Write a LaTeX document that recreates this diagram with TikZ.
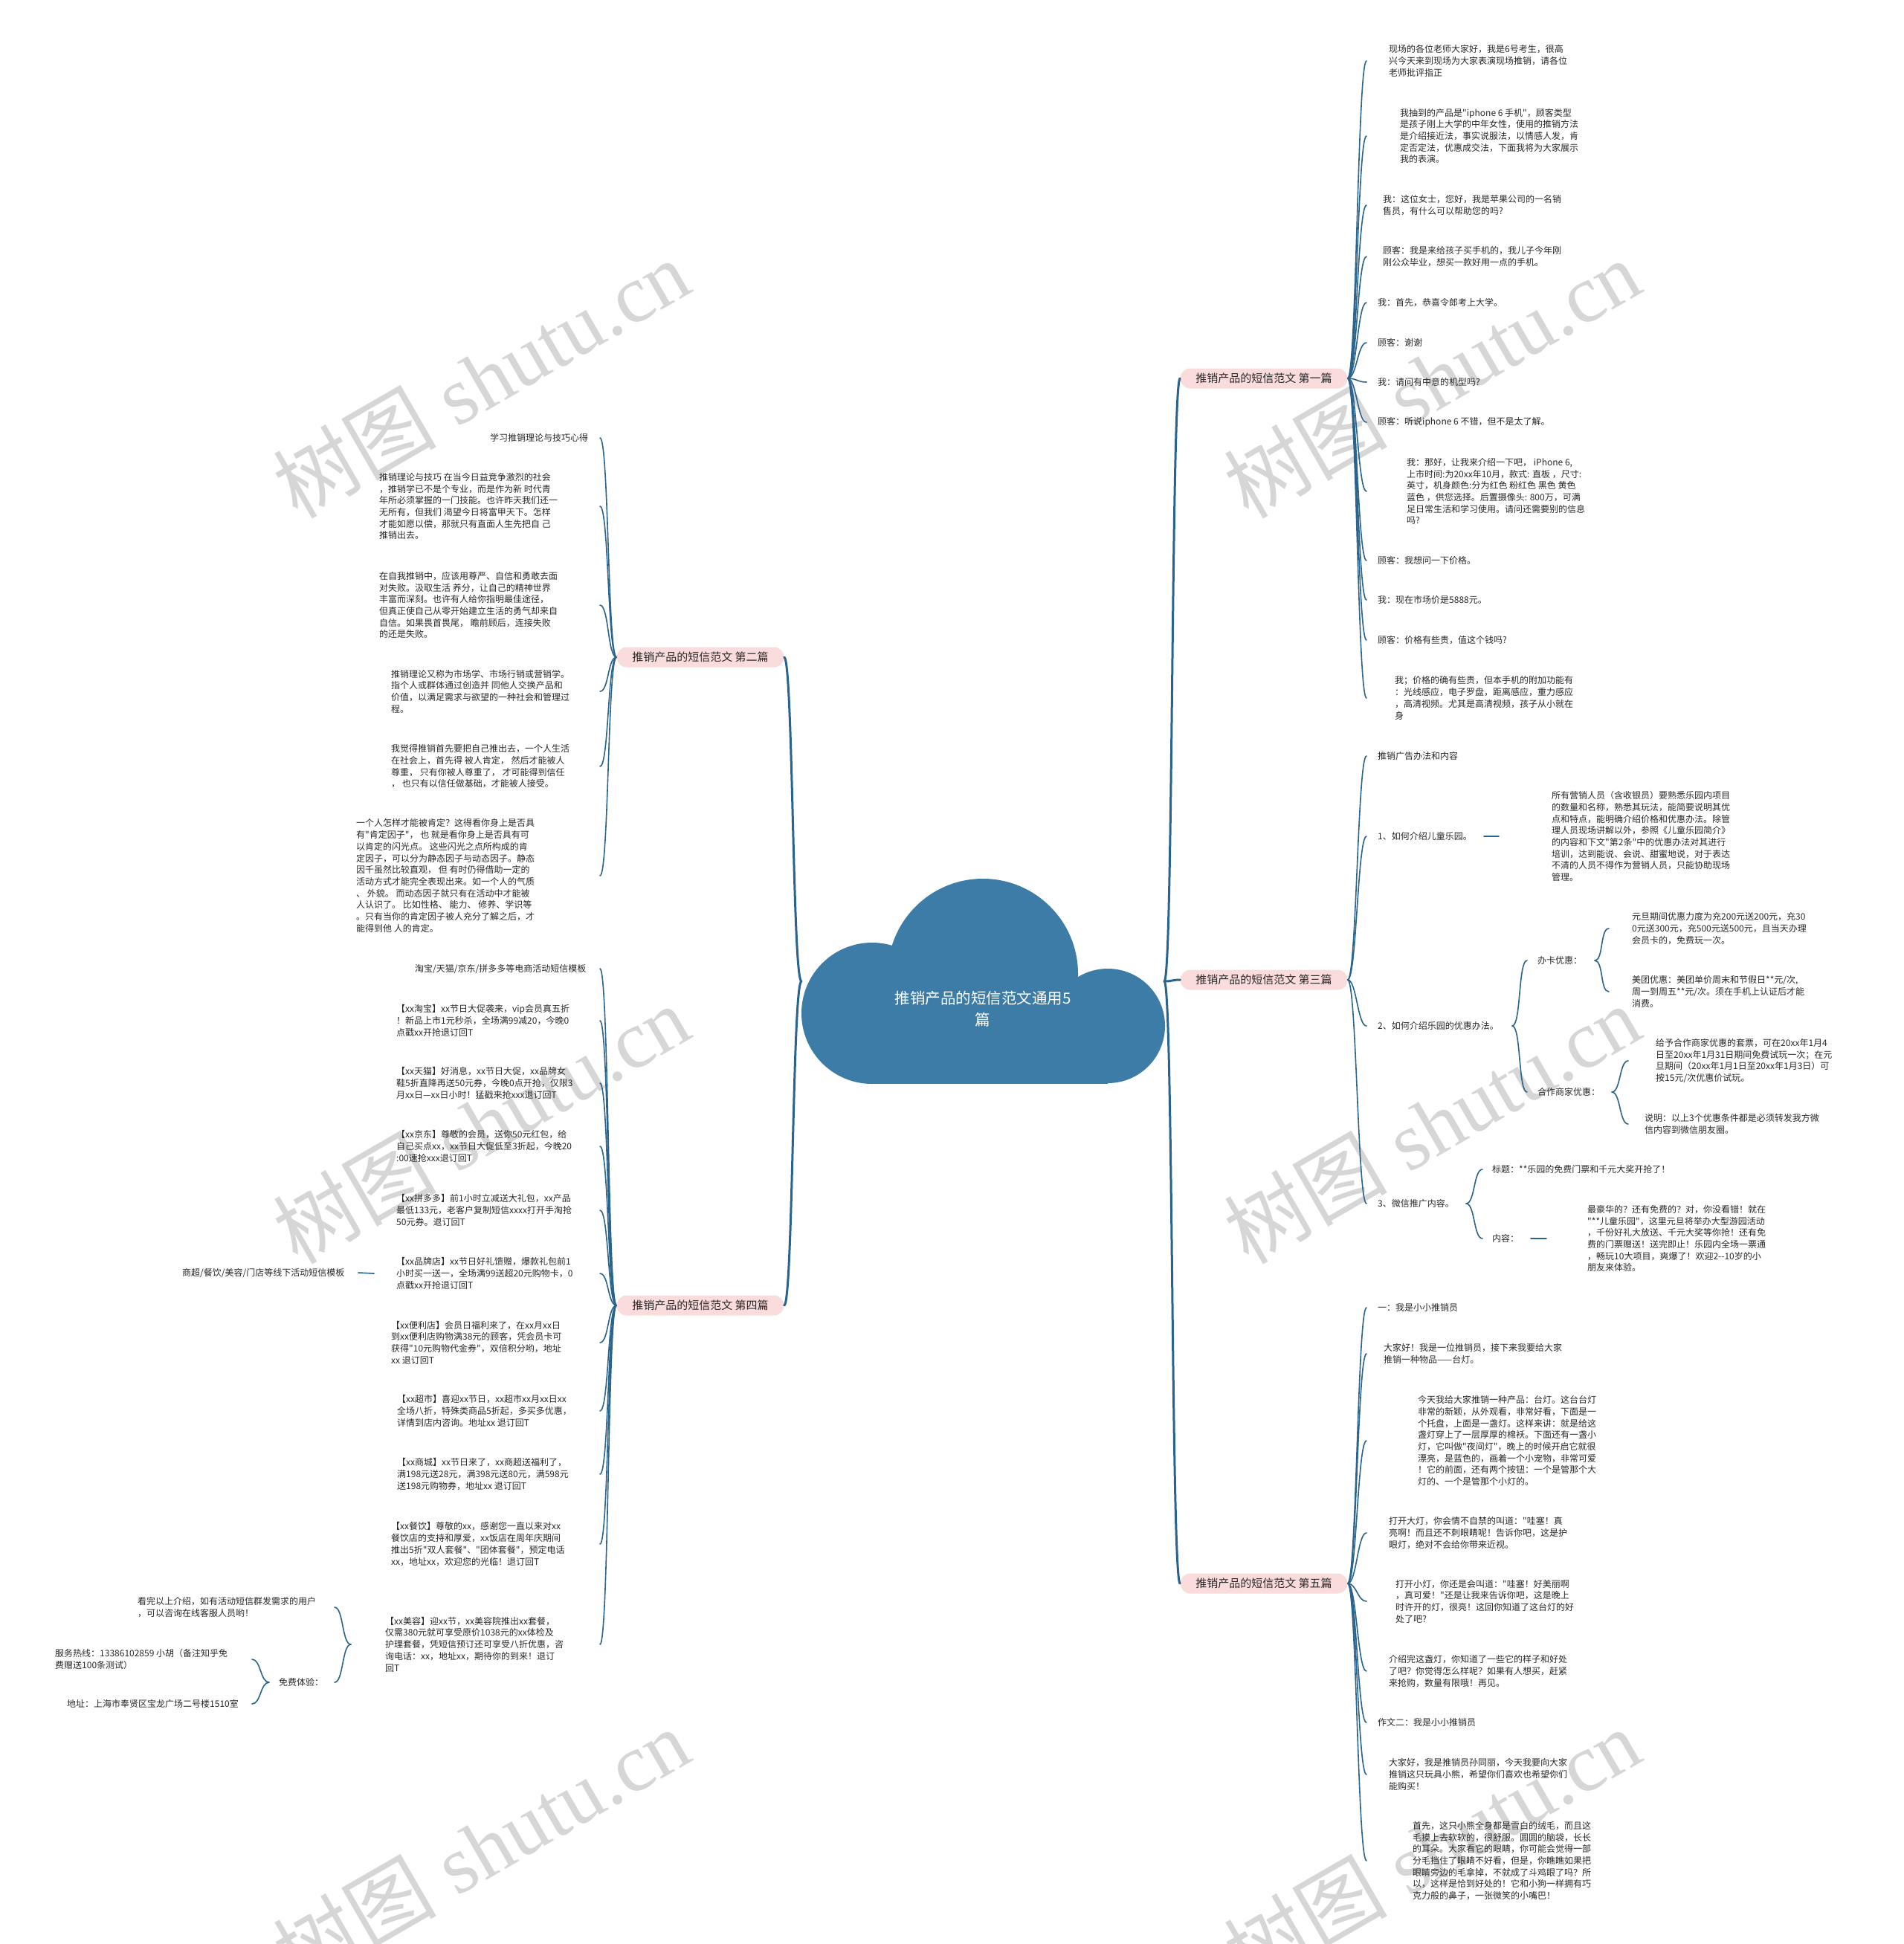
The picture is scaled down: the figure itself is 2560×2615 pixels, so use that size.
\documentclass[tikz,border=0pt]{standalone}
\usepackage{fontspec}
\setmainfont{Liberation Serif}
\newfontfamily\cjk{Noto Sans CJK SC}
\definecolor{lnc}{RGB}{42,100,140}
\definecolor{cloudc}{RGB}{61,124,167}
\definecolor{pillc}{RGB}{250,220,220}
\definecolor{txtc}{RGB}{40,40,40}
\definecolor{wmc}{RGB}{214,214,214}
\begin{document}
\begin{tikzpicture}[x=1pt,y=-1pt,
 leaf/.style={font=\cjk\fontsize{12}{15.7}\selectfont, align=left, inner sep=0pt, anchor=west, text=txtc},
 pill/.style={font=\cjk\fontsize{15}{18}\selectfont, text=txtc, fill=pillc, rounded corners=13.5pt, minimum width=225pt, minimum height=27pt, inner sep=0pt},
 trunk/.style={draw=lnc, line width=3pt, line cap=round},
 twig/.style={draw=lnc, line width=1.6pt, line cap=round},
 wm/.style={text=wmc, rotate=30, font=\fontsize{110}{110}\selectfont, inner sep=0pt}]
\useasboundingbox (0,0) rectangle (2560,2615);
\fill[white] (0,0) rectangle (2560,2615);
% watermarks
\node[wm] (w1) at (647,509) {{\cjk 树图} shutu.cn};
\node[wm] (w2) at (647,1512) {{\cjk 树图} shutu.cn};
\node[wm] (w3) at (647,2485) {{\cjk 树图} shutu.cn};
\node[wm] (w4) at (1926,509) {{\cjk 树图} shutu.cn};
\node[wm] (w5) at (1926,1512) {{\cjk 树图} shutu.cn};
\node[wm] (w6) at (1926,2485) {{\cjk 树图} shutu.cn};
% cloud
\fill[cloudc] (1173,1363) circle[radius=95];
\fill[cloudc] (1322,1310) circle[radius=128];
\fill[cloudc] (1490,1380) circle[radius=77];
\fill[cloudc] (1173,1363) rectangle (1490,1458);
\node[font=\cjk\fontsize{20.5}{29}\selectfont, text=white, align=center] (root) at (1322,1357) {推销产品的短信范文通用5\\篇};
\coordinate (rootL) at (1078,1320);
\coordinate (rootR) at (1566,1320);
% columns
\coordinate (tipR) at (1838,0);
\coordinate (tipL) at (807,0);
\coordinate (s3c) at (2034,0);
\coordinate (t3c) at (2054,0);
\coordinate (s3c1) at (2145,0);
\coordinate (t3c1) at (2164,0);
\coordinate (s3c2) at (2168,0);
\coordinate (t3c2) at (2190,0);
\coordinate (s3d) at (1972,0);
\coordinate (t3d) at (1994,0);
\coordinate (d3b) at (1996,0);
\coordinate (e3b) at (2016,0);
\coordinate (d3d) at (2059,0);
\coordinate (e3d) at (2080,0);
\coordinate (d4f) at (503,0);
\coordinate (e4f) at (482,0);
\coordinate (sK) at (472,0);
\coordinate (tK) at (450,0);
\coordinate (sF) at (362,0);
\coordinate (tF) at (339,0);
% pills
\node[pill] (p1) at (1700,509) {推销产品的短信范文 第一篇};
\node[pill] (p3) at (1700,1318) {推销产品的短信范文 第三篇};
\node[pill] (p5) at (1700,2130) {推销产品的短信范文 第五篇};
\node[pill] (p2) at (942,884) {推销产品的短信范文 第二篇};
\node[pill] (p4) at (942,1756) {推销产品的短信范文 第四篇};
% trunks
\foreach \p in {p1,p3,p5} \draw[trunk] (rootR) .. controls +(12,0) and +(-12,0) .. (\p.west);
\foreach \p in {p2,p4} \draw[trunk] (rootL) .. controls +(-12,0) and +(12,0) .. (\p.east);
% first
\node[leaf] (r1a) at (1868,82) {现场的各位老师大家好，我是6号考生，很高\\兴今天来到现场为大家表演现场推销，请各位\\老师批评指正};
\node[leaf] (r1b) at (1883,183) {我抽到的产品是"iphone 6 手机"，顾客类型\\是孩子刚上大学的中年女性，使用的推销方法\\是介绍接近法，事实说服法，以情感人发，肯\\定否定法，优惠成交法，下面我将为大家展示\\我的表演。};
\node[leaf] (r1c) at (1860,276) {我：这位女士，您好，我是苹果公司的一名销\\售员，有什么可以帮助您的吗?};
\node[leaf] (r1d) at (1860,345) {顾客：我是来给孩子买手机的，我儿子今年刚\\刚公众毕业，想买一款好用一点的手机。};
\node[leaf] (r1e) at (1853,407) {我：首先，恭喜令郎考上大学。};
\node[leaf] (r1f) at (1853,461) {顾客：谢谢};
\node[leaf] (r1g) at (1853,514) {我：请问有中意的机型吗?};
\node[leaf] (r1h) at (1853,568) {顾客：听说iphone 6 不错，但不是太了解。};
\node[leaf] (r1i) at (1892,661) {我：那好，让我来介绍一下吧， iPhone 6,\\上市时间:为20xx年10月，款式: 直板 ，尺寸:\\英寸，机身颜色:分为红色 粉红色 黑色 黄色\\蓝色 ，供您选择。后置摄像头: 800万，可满\\足日常生活和学习使用。请问还需要别的信息\\吗?};
\node[leaf] (r1j) at (1853,754) {顾客：我想问一下价格。};
\node[leaf] (r1k) at (1853,807) {我：现在市场价是5888元。};
\node[leaf] (r1l) at (1853,861) {顾客：价格有些贵，值这个钱吗?};
\node[leaf] (r1m) at (1876,939) {我；价格的确有些贵，但本手机的附加功能有\\：光线感应，电子罗盘，距离感应，重力感应\\，高清视频。尤其是高清视频，孩子从小就在\\身};
\foreach \n in {r1a,r1b,r1c,r1d,r1e,r1f,r1g,r1h,r1i,r1j,r1k,r1l,r1m}
  \draw[twig] (p1.east) .. controls +(12,0) and +(-12,0) .. (\n.west -| tipR);
% third
\node[leaf] (r3a) at (1853,1017) {推销广告办法和内容};
\node[leaf] (r3b) at (1853,1125) {1、如何介绍儿童乐园。};
\node[leaf] (r3b1) at (2087,1125) {所有营销人员（含收银员）要熟悉乐园内项目\\的数量和名称，熟悉其玩法，能简要说明其优\\点和特点，能明确介绍价格和优惠办法。除管\\理人员现场讲解以外，参照《儿童乐园简介》\\的内容和下文"第2条"中的优惠办法对其进行\\培训，达到能说、会说、甜蜜地说，对于表达\\不清的人员不得作为营销人员，只能协助现场\\管理。};
\node[leaf] (r3c) at (1853,1380) {2、如何介绍乐园的优惠办法。};
\node[leaf] (r3c1) at (2068,1292) {办卡优惠：};
\node[leaf] (r3c1a) at (2195,1249) {元旦期间优惠力度为充200元送200元，充30\\0元送300元，充500元送500元，且当天办理\\会员卡的，免费玩一次。};
\node[leaf] (r3c1b) at (2195,1334) {美团优惠：美团单价周末和节假日**元/次,\\周一到周五**元/次。须在手机上认证后才能\\消费。};
\node[leaf] (r3c2) at (2068,1469) {合作商家优惠：};
\node[leaf] (r3c2a) at (2227,1427) {给予合作商家优惠的套票，可在20xx年1月4\\日至20xx年1月31日期间免费试玩一次；在元\\旦期间（20xx年1月1日至20xx年1月3日）可\\按15元/次优惠价试玩。};
\node[leaf] (r3c2b) at (2212,1512) {说明：以上3个优惠条件都是必须转发我方微\\信内容到微信朋友圈。};
\node[leaf] (r3d) at (1853,1619) {3、微信推广内容。};
\node[leaf] (r3d1) at (2007,1573) {标题：**乐园的免费门票和千元大奖开抢了！};
\node[leaf] (r3d2) at (2007,1666) {内容：};
\node[leaf] (r3d2a) at (2135,1666) {最豪华的？还有免费的？对，你没看错！就在\\"**儿童乐园"，这里元旦将举办大型游园活动\\，千份好礼大放送、千元大奖等你抢！还有免\\费的门票赠送！送完即止！乐园内全场一票通\\，畅玩10大项目，爽爆了！欢迎2-{}-10岁的小\\朋友来体验。};
\foreach \n in {r3a,r3b,r3c,r3d}
  \draw[twig] (p3.east) .. controls +(12,0) and +(-12,0) .. (\n.west -| tipR);
\draw[twig] (r3b.east -| d3b) -- (r3b1.west -| e3b);
\foreach \n in {r3c1,r3c2}
  \draw[twig] (r3c.east -| s3c) .. controls +(12,0) and +(-12,0) .. (\n.west -| t3c);
\foreach \n in {r3c1a,r3c1b}
  \draw[twig] (r3c1.east -| s3c1) .. controls +(12,0) and +(-12,0) .. (\n.west -| t3c1);
\foreach \n in {r3c2a,r3c2b}
  \draw[twig] (r3c2.east -| s3c2) .. controls +(12,0) and +(-12,0) .. (\n.west -| t3c2);
\foreach \n in {r3d1,r3d2}
  \draw[twig] (r3d.east -| s3d) .. controls +(12,0) and +(-12,0) .. (\n.west -| t3d);
\draw[twig] (r3d2.east -| d3d) -- (r3d2a.west -| e3d);
% fifth
\node[leaf] (r5a) at (1853,1759) {一：我是小小推销员};
\node[leaf] (r5b) at (1861,1821) {大家好！我是一位推销员，接下来我要给大家\\推销一种物品——台灯。};
\node[leaf] (r5c) at (1907,1938) {今天我给大家推销一种产品：台灯。这台台灯\\非常的新颖，从外观看，非常好看，下面是一\\个托盘，上面是一盏灯。这样来讲：就是给这\\盏灯穿上了一层厚厚的棉袄。下面还有一盏小\\灯，它叫做"夜间灯"，晚上的时候开启它就很\\漂亮，是蓝色的，画着一个小宠物，非常可爱\\！它的前面，还有两个按钮：一个是管那个大\\灯的、一个是管那个小灯的。};
\node[leaf] (r5d) at (1868,2062) {打开大灯，你会情不自禁的叫道："哇塞！真\\亮啊！而且还不刺眼睛呢！告诉你吧，这是护\\眼灯，绝对不会给你带来近视。};
\node[leaf] (r5e) at (1877,2154) {打开小灯，你还是会叫道："哇塞！好美丽啊\\，真可爱！"还是让我来告诉你吧，这是晚上\\时许开的灯，很亮！这回你知道了这台灯的好\\处了吧?};
\node[leaf] (r5f) at (1868,2248) {介绍完这盏灯，你知道了一些它的样子和好处\\了吧？你觉得怎么样呢？如果有人想买，赶紧\\来抢购，数量有限哦！再见。};
\node[leaf] (r5g) at (1853,2317) {作文二：我是小小推销员};
\node[leaf] (r5h) at (1868,2387) {大家好，我是推销员孙同丽，今天我要向大家\\推销这只玩具小熊，希望你们喜欢也希望你们\\能购买！};
\node[leaf] (r5i) at (1900,2503) {首先，这只小熊全身都是雪白的绒毛，而且这\\毛摸上去软软的，很舒服。圆圆的脑袋，长长\\的耳朵。大家看它的眼睛，你可能会觉得一部\\分毛挡住了眼睛不好看，但是，你瞧瞧如果把\\眼睛旁边的毛拿掉，不就成了斗鸡眼了吗？所\\以，这样是恰到好处的！它和小狗一样拥有巧\\克力般的鼻子，一张微笑的小嘴巴！};
\foreach \n in {r5a,r5b,r5c,r5d,r5e,r5f,r5g,r5h,r5i}
  \draw[twig] (p5.east) .. controls +(12,0) and +(-12,0) .. (\n.west -| tipR);
% second
\node[leaf] (l2a) at (659,589) {学习推销理论与技巧心得};
\node[leaf] (l2b) at (510,681) {推销理论与技巧 在当今日益竞争激烈的社会\\，推销学已不是个专业，而是作为新 时代青\\年所必须掌握的一门技能。也许昨天我们还一\\无所有，但我们 渴望今日将富甲天下。怎样\\才能如愿以偿，那就只有直面人生先把自 己\\推销出去。};
\node[leaf] (l2c) at (510,814) {在自我推销中，应该用尊严、自信和勇敢去面\\对失败。汲取生活 养分，让自己的精神世界\\丰富而深刻。也许有人给你指明最佳途径，\\但真正使自己从零开始建立生活的勇气却来自\\自信。如果畏首畏尾， 瞻前顾后，连接失败\\的还是失败。};
\node[leaf] (l2d) at (526,930) {推销理论又称为市场学、市场行销或营销学。\\指个人或群体通过创造并 同他人交换产品和\\价值，以满足需求与欲望的一种社会和管理过\\程。};
\node[leaf] (l2e) at (526,1031) {我觉得推销首先要把自己推出去，一个人生活\\在社会上，首先得 被人肯定， 然后才能被人\\尊重， 只有你被人尊重了， 才可能得到信任\\， 也只有以信任做基础，才能被人接受。};
\node[leaf] (l2f) at (479,1178) {一个人怎样才能被肯定？这得看你身上是否具\\有"肯定因子"， 也 就是看你身上是否具有可\\以肯定的闪光点。 这些闪光之点所构成的肯\\定因子，可以分为静态因子与动态因子。静态\\因千虽然比较直观， 但 有时仍得借助一定的\\活动方式才能完全表现出来。如一个人的气质\\、 外貌。 而动态因子就只有在活动中才能被\\人认识了。 比如性格、 能力、 修养、学识等\\。只有当你的肯定因子被人充分了解之后，才\\能得到他 人的肯定。};
\foreach \n in {l2a,l2b,l2c,l2d,l2e,l2f}
  \draw[twig] (p2.west) .. controls +(-12,0) and +(12,0) .. (\n.east -| tipL);
% fourth
\node[leaf] (l4a) at (558,1303) {淘宝/天猫/京东/拼多多等电商活动短信模板};
\node[leaf] (l4b) at (533,1373) {【xx淘宝】xx节日大促袭来，vip会员真五折\\！新品上市1元秒杀，全场满99减20，今晚0\\点戳xx开抢退订回T};
\node[leaf] (l4c) at (533,1457) {【xx天猫】好消息，xx节日大促，xx品牌女\\鞋5折直降再送50元券，今晚0点开抢，仅限3\\月xx日—xx日小时！猛戳来抢xxx退订回T};
\node[leaf] (l4d) at (533,1542) {【xx京东】尊敬的会员，送你50元红包，给\\自己买点xx，xx节日大促低至3折起，今晚20\\:00速抢xxx退订回T};
\node[leaf] (l4e) at (533,1628) {【xx拼多多】前1小时立减送大礼包，xx产品\\最低133元，老客户复制短信xxxx打开手淘抢\\50元券。退订回T};
\node[leaf] (l4f) at (533,1713) {【xx品牌店】xx节日好礼馈赠，爆款礼包前1\\小时买一送一，全场满99送超20元购物卡，0\\点戳xx开抢退订回T};
\node[leaf] (l4f1) at (245,1712) {商超/餐饮/美容/门店等线下活动短信模板};
\node[leaf] (l4g) at (526,1806) {【xx便利店】会员日福利来了，在xx月xx日\\到xx便利店购物满38元的顾客，凭会员卡可\\获得"10元购物代金券"，双倍积分哟，地址\\xx 退订回T};
\node[leaf] (l4h) at (534,1898) {【xx超市】喜迎xx节日，xx超市xx月xx日xx\\全场八折，特殊类商品5折起，多买多优惠，\\详情到店内咨询。地址xx 退订回T};
\node[leaf] (l4i) at (534,1983) {【xx商城】xx节日来了，xx商超送福利了，\\满198元送28元，满398元送80元，满598元\\送198元购物券，地址xx 退订回T};
\node[leaf] (l4j) at (526,2077) {【xx餐饮】尊敬的xx，感谢您一直以来对xx\\餐饮店的支持和厚爱，xx饭店在周年庆期间\\推出5折"双人套餐"、"团体套餐"，预定电话\\xx，地址xx，欢迎您的光临！退订回T};
\node[leaf] (l4k) at (518,2212) {【xx美容】迎xx节，xx美容院推出xx套餐，\\仅需380元就可享受原价1038元的xx体检及\\护理套餐，凭短信预订还可享受八折优惠，咨\\询电话：xx，地址xx，期待你的到来！退订\\回T};
\node[leaf] (l4k1) at (185,2162) {看完以上介绍，如有活动短信群发需求的用户\\，可以咨询在线客服人员哟！};
\node[leaf] (l4k2) at (375,2263) {免费体验：};
\node[leaf] (l4k2a) at (74,2232) {服务热线：13386102859 小胡（备注知乎免\\费赠送100条测试）};
\node[leaf] (l4k2b) at (90,2292) {地址：上海市奉贤区宝龙广场二号楼1510室};
\foreach \n in {l4a,l4b,l4c,l4d,l4e,l4f,l4g,l4h,l4i,l4j,l4k}
  \draw[twig] (p4.west) .. controls +(-12,0) and +(12,0) .. (\n.east -| tipL);
\draw[twig] (l4f.west -| d4f) -- (l4f1.east -| e4f);
\foreach \n in {l4k1,l4k2}
  \draw[twig] (l4k.west -| sK) .. controls +(-12,0) and +(12,0) .. (\n.east -| tK);
\foreach \n in {l4k2a,l4k2b}
  \draw[twig] (l4k2.west -| sF) .. controls +(-12,0) and +(12,0) .. (\n.east -| tF);
\end{tikzpicture}
\end{document}
